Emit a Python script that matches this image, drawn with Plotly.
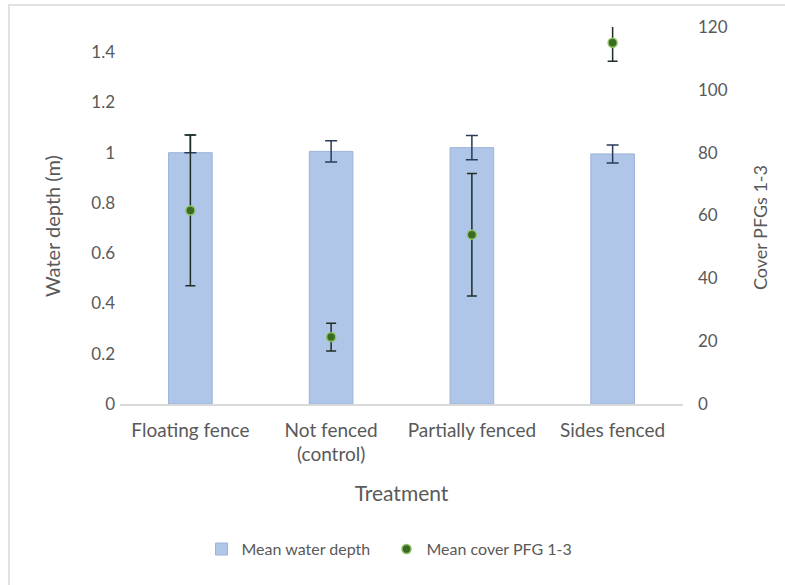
import plotly.graph_objects as go

categories = ["Floating fence", "Not fenced<br>(control)", "Partially fenced", "Sides fenced"]
depth_mean = [1.0, 1.005, 1.02, 0.995]
depth_err_plus = [0.07, 0.042, 0.048, 0.036]
depth_err_minus = [0.0, 0.042, 0.048, 0.036]
cover_mean = [61.6, 21.3, 53.9, 115.0]
cover_err = [24.0, 4.4, 19.5, 5.9]
left_ticks = [0, 0.2, 0.4, 0.6, 0.8, 1.0, 1.2, 1.4]
left_ticklabels = ["0", "0.2", "0.4", "0.6", "0.8", "1", "1.2", "1.4"]
right_ticks = [0, 20, 40, 60, 80, 100, 120]

FONT = "Lato"
GREY = "#595959"
PW, PH = 563, 377  # plot area size in px

fig = go.Figure()
fig.add_trace(go.Bar(
    x=categories, y=depth_mean, name="Mean water depth",
    marker=dict(color="#b0c6e8", line=dict(color="#9db3d8", width=1)),
    width=0.31,
    error_y=dict(type="data", symmetric=False, array=depth_err_plus, arrayminus=depth_err_minus,
                 color="#2b3a55", thickness=1.5, width=6),
))
fig.add_trace(go.Scatter(
    x=categories, y=cover_mean, name="Mean cover PFG 1-3", yaxis="y2", mode="markers",
    marker=dict(color="#3a6b25", size=9, line=dict(color="#8cc063", width=1.5)),
    error_y=dict(type="data", array=cover_err, color="#1f2e22", thickness=1.5, width=5),
))

fig.update_layout(
    width=785, height=585,
    margin=dict(l=120, r=102, t=27, b=181, autoexpand=False),
    paper_bgcolor="white", plot_bgcolor="white",
    font=dict(family=FONT, size=16, color=GREY),
    showlegend=True,
    legend=dict(orientation="h", x=0.5 - 15 / PW, xanchor="center", y=-0.385, yanchor="middle",
                font=dict(size=16, color=GREY), traceorder="normal",
                entrywidth=140, entrywidthmode="pixels"),
    xaxis=dict(
        showline=True, linecolor="#d9d9d9", linewidth=1.5, ticks="",
        title=dict(text="Treatment", font=dict(size=21, color=GREY), standoff=22),
        tickfont=dict(size=19, color=GREY), ticklabelstandoff=8,
    ),
    yaxis=dict(
        range=[0, 1.5], tickvals=left_ticks, ticktext=left_ticklabels,
        showgrid=False, zeroline=False, showline=False, ticks="",
        tickfont=dict(size=17, color=GREY), ticklabelstandoff=4,
    ),
    yaxis2=dict(
        range=[0, 120], tickvals=right_ticks, overlaying="y", side="right",
        showgrid=False, zeroline=False, showline=False, ticks="",
        tickfont=dict(size=17, color=GREY), ticklabelstandoff=14,
    ),
    annotations=[
        dict(text="Water depth (m)", xref="paper", yref="paper",
             x=(52 - 120) / PW, y=(404 - 226) / PH, textangle=-90, showarrow=False,
             xanchor="center", yanchor="middle", font=dict(size=20, color=GREY)),
        dict(text="Cover PFGs 1-3", xref="paper", yref="paper",
             x=(760 - 120) / PW, y=(404 - 228) / PH, textangle=-90, showarrow=False,
             xanchor="center", yanchor="middle", font=dict(size=18, color=GREY)),
    ],
    shapes=[dict(type="rect", xref="paper", yref="paper",
                 x0=-111 / PW, x1=(800 - 120) / PW, y0=-(600 - 404) / PH, y1=(404 - 5) / PH,
                 line=dict(color="#d9d9d9", width=1.5), fillcolor="rgba(0,0,0,0)", layer="below")],
)

fig.write_html("out.html")
